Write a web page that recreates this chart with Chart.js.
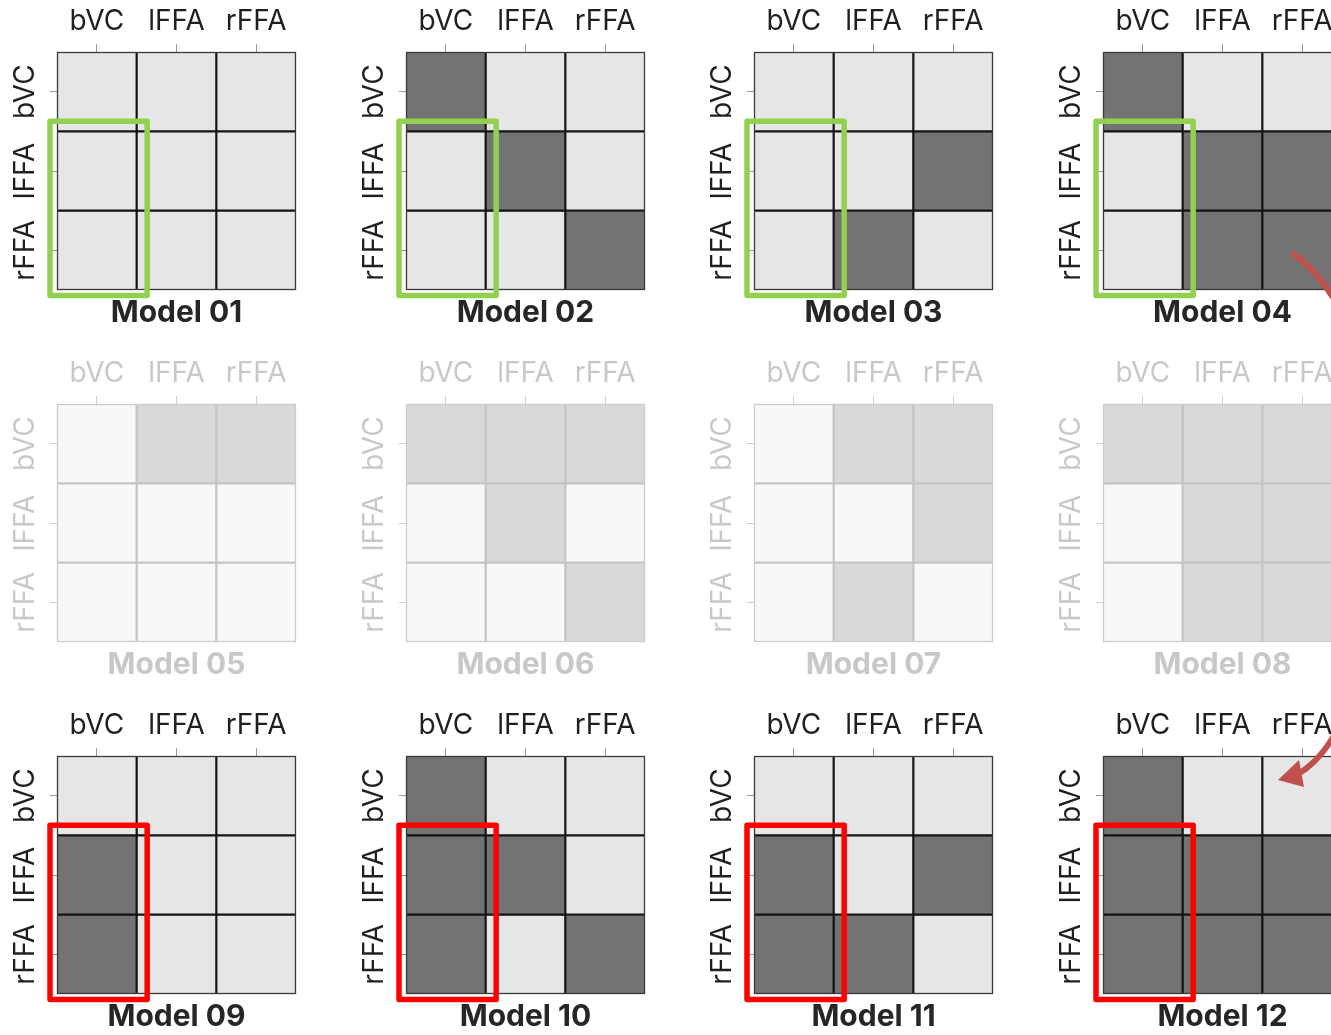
<!DOCTYPE html>
<html>
<head>
<meta charset="utf-8">
<script src="https://cdn.jsdelivr.net/npm/chart.js@4.4.1/dist/chart.umd.min.js"></script>
<style>
  html, body { margin: 0; padding: 0; background: #fff; }
  #wrap { position: relative; width: 1331px; height: 1035px; overflow: hidden; background: #fff; }
  #wrap canvas { position: absolute; }
  #overlay { pointer-events: none; }
</style>
</head>
<body>
<div id="wrap">
  <canvas id="overlay" width="1331" height="1035" style="left:0;top:0;z-index:5"></canvas>
</div>
<script>
// regions (rows = "from", cols = "to"), 1 = connection modulated
const regions = ["bVC", "lFFA", "rFFA"];
const modelNames = ["Model 01", "Model 02", "Model 03", "Model 04",
                    "Model 05", "Model 06", "Model 07", "Model 08",
                    "Model 09", "Model 10", "Model 11", "Model 12"];

const model01 = [[0, 0, 0], [0, 0, 0], [0, 0, 0]];
const model02 = [[1, 0, 0], [0, 1, 0], [0, 0, 1]];
const model03 = [[0, 0, 0], [0, 0, 1], [0, 1, 0]];
const model04 = [[1, 0, 0], [0, 1, 1], [0, 1, 1]];
const model05 = [[0, 1, 1], [0, 0, 0], [0, 0, 0]];
const model06 = [[1, 1, 1], [0, 1, 0], [0, 0, 1]];
const model07 = [[0, 1, 1], [0, 0, 1], [0, 1, 0]];
const model08 = [[1, 1, 1], [0, 1, 1], [0, 1, 1]];
const model09 = [[0, 0, 0], [1, 0, 0], [1, 0, 0]];
const model10 = [[1, 0, 0], [1, 1, 0], [1, 0, 1]];
const model11 = [[0, 0, 0], [1, 0, 1], [1, 1, 0]];
const model12 = [[1, 0, 0], [1, 1, 1], [1, 1, 1]];

const models = [model01, model02, model03, model04, model05, model06,
                model07, model08, model09, model10, model11, model12];

// layout
const colLeft = [0, 349, 697, 1046];
const rowTop = [0, 352, 704];
const W = 348, H = 352;

const normal = { on: "#737373", off: "#e6e6e6", line: "#141414", edge: "#3a3a3a", text: "#1f1f1f", title: "#262626", tick: "#9a9a9a" };
const faded = { on: "#d9d9d9", off: "#f8f8f8", line: "#c4c4c4", edge: "#cccccc", text: "#c8c8c8", title: "#c8c8c8", tick: "#d0d0d0" };

// cell separators + outer frame
const cellLines = {
  id: "cellLines",
  afterDatasetsDraw(chart, args, opts) {
    const ctx = chart.ctx, a = chart.chartArea;
    const xs = chart.scales.x, ys = chart.scales.y;
    const half = (xs.getPixelForValue(1) - xs.getPixelForValue(0)) / 2;
    ctx.save();
    ctx.strokeStyle = opts.line;
    ctx.lineWidth = 2.2;
    ctx.beginPath();
    [0, 1].forEach(function (i) {
      const x = xs.getPixelForValue(i) + half;
      ctx.moveTo(x, a.top); ctx.lineTo(x, a.bottom);
      const y = ys.getPixelForValue(i + 1);
      ctx.moveTo(a.left, y); ctx.lineTo(a.right, y);
    });
    ctx.stroke();
    ctx.strokeStyle = opts.edge;
    ctx.lineWidth = 1.3;
    ctx.strokeRect(a.left + 0.5, a.top + 0.5, a.right - a.left - 1, a.bottom - a.top - 1);
    ctx.restore();
  }
};

const yLabels = {
  id: "yLabels",
  afterDraw(chart, args, opts) {
    const ctx = chart.ctx;
    const ys = chart.scales.y;
    ctx.save();
    ctx.fillStyle = opts.color;
    ctx.font = "28px Inter";
    ctx.textAlign = "center";
    ctx.textBaseline = "middle";
    regions.forEach(function (r, i) {
      const y = ys.getPixelForValue(i + 0.5);
      ctx.save();
      ctx.translate(chart.chartArea.left - 31, y);
      ctx.rotate(-Math.PI / 2);
      ctx.fillText(r, 0, 0);
      ctx.restore();
    });
    ctx.restore();
  }
};

const panelTitle = {
  id: "panelTitle",
  afterDraw(chart, args, opts) {
    const ctx = chart.ctx, a = chart.chartArea;
    ctx.save();
    ctx.fillStyle = opts.color;
    ctx.font = "bold 30px Inter";
    ctx.textAlign = "center";
    ctx.textBaseline = "middle";
    ctx.fillText(opts.text, (a.left + a.right) / 2, a.bottom + 22.5);
    ctx.restore();
  }
};

const highlight = {
  id: "highlight",
  afterDraw(chart, args, opts) {
    if (!opts.color) return;
    const ctx = chart.ctx;
    const xs = chart.scales.x, ys = chart.scales.y;
    const half = (xs.getPixelForValue(1) - xs.getPixelForValue(0)) / 2;
    const left = xs.getPixelForValue(0) - half - 7;
    const right = xs.getPixelForValue(0) + half + 10.5;
    const top = ys.getPixelForValue(1) - 10;
    const bottom = ys.getPixelForValue(3) + 5.5;
    ctx.save();
    ctx.strokeStyle = opts.color;
    ctx.lineWidth = 5.5;
    ctx.lineJoin = "round";
    ctx.strokeRect(left, top, right - left, bottom - top);
    ctx.restore();
  }
};

models.forEach(function (m, k) {
  const row = Math.floor(k / 4), col = k % 4;
  const st = row === 1 ? faded : normal;
  const cv = document.createElement("canvas");
  cv.width = W; cv.height = H;
  cv.style.left = colLeft[col] + "px";
  cv.style.top = rowTop[row] + "px";
  document.getElementById("wrap").appendChild(cv);

  const datasets = m.map(function (cells, r) {
    return {
      data: cells.map(function () { return [r, r + 1]; }),
      backgroundColor: cells.map(function (v) { return v ? st.on : st.off; }),
      borderWidth: 0,
      borderSkipped: false,
      inflateAmount: 0.5,
      barPercentage: 1,
      categoryPercentage: 1,
      grouped: false
    };
  });

  new Chart(cv, {
    type: "bar",
    data: { labels: regions, datasets: datasets },
    plugins: [cellLines, yLabels, panelTitle, highlight],
    options: {
      responsive: false,
      animation: false,
      devicePixelRatio: 1,
      layout: { padding: { left: 0, right: 52, top: 0, bottom: 62 } },
      scales: {
        x: {
          position: "top",
          offset: true,
          grid: { offset: false, drawOnChartArea: false, drawTicks: true, tickLength: 8, color: st.tick },
          border: { display: false },
          ticks: { color: st.text, font: { family: "Inter", size: 28 }, padding: 6, maxRotation: 0 },
          afterFit: function (s) { s.height = 52; }
        },
        y: {
          type: "linear",
          min: 0, max: 3,
          reverse: true,
          afterBuildTicks: function (s) { s.ticks = [0.5, 1.5, 2.5].map(function (v) { return { value: v }; }); },
          grid: { drawOnChartArea: false, drawTicks: true, tickLength: 7, color: st.tick },
          border: { display: false },
          ticks: { display: false },
          afterFit: function (s) { s.width = 57; }
        }
      },
      plugins: {
        legend: { display: false },
        tooltip: { enabled: false },
        title: { display: false },
        cellLines: { line: st.line, edge: st.edge },
        yLabels: { color: st.text },
        panelTitle: { text: modelNames[k], color: st.title },
        highlight: { color: row === 0 ? "#92d050" : (row === 2 ? "#ff0000" : null) }
      }
    }
  });
});

// curved arrow linking Model 04 and Model 12 (mostly outside the frame)
const oc = document.getElementById("overlay").getContext("2d");
oc.strokeStyle = "#c0504d";
oc.fillStyle = "#c0504d";
oc.lineWidth = 6;
oc.beginPath();
oc.moveTo(1292, 253);
oc.bezierCurveTo(1420, 340, 1400, 715, 1298, 774);
oc.stroke();
oc.beginPath();
oc.moveTo(1278, 780);
oc.lineTo(1299, 760);
oc.lineTo(1304, 787);
oc.closePath();
oc.fill();
</script>
</body>
</html>
